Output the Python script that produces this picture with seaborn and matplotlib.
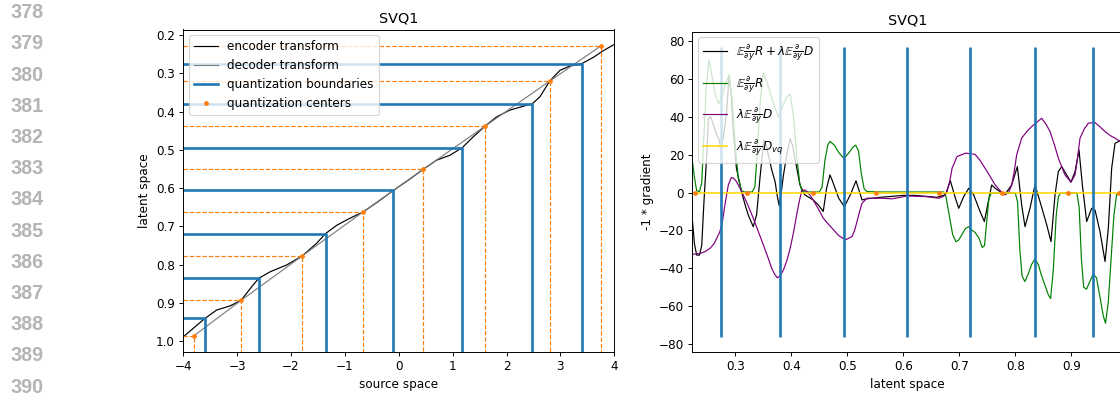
import numpy as np
import pandas as pd
import matplotlib
matplotlib.use("Agg")
import matplotlib.pyplot as plt
import seaborn as sns

# ---- left panel: encoder / decoder transforms ----
enc_src = [-4.0, -3.6, -3.38, -3.13, -2.93, -2.73, -2.60, -2.39, -2.08, -1.79, -1.53, -1.36,
           -1.15, -0.91, -0.67, -0.40, -0.10, 0.20, 0.45, 0.70, 0.95, 1.18, 1.38, 1.60, 1.81,
           2.06, 2.48, 2.62, 2.80, 2.99, 3.17, 3.40, 3.61, 3.79, 4.0]
enc_lat = [0.989, 0.941, 0.919, 0.908, 0.894, 0.858, 0.836, 0.819, 0.801, 0.777, 0.745, 0.719,
           0.697, 0.679, 0.663, 0.637, 0.606, 0.577, 0.551, 0.527, 0.514, 0.494, 0.466, 0.438, 0.414,
           0.396, 0.379, 0.361, 0.320, 0.292, 0.281, 0.274, 0.258, 0.241, 0.224]

center_src = [-3.80, -2.93, -1.79, -0.67, 0.45, 1.60, 2.80, 3.75]
center_lat = [0.986, 0.894, 0.777, 0.663, 0.551, 0.438, 0.320, 0.228]
bound_src = [-3.60, -2.60, -1.36, -0.10, 1.18, 2.48, 3.40]
bound_lat = [0.939, 0.835, 0.719, 0.606, 0.494, 0.379, 0.274]

# ---- right panel: gradients over latent space ----
# E d/dy R  (green)
r_lat = [0.2232, 0.227, 0.231, 0.236, 0.240, 0.244, 0.248, 0.253, 0.258, 0.264, 0.270, 0.276,
         0.282, 0.289, 0.294, 0.300, 0.305, 0.311, 0.316, 0.330, 0.335, 0.340, 0.345, 0.350,
         0.357, 0.365, 0.372, 0.377, 0.384, 0.391, 0.398, 0.404, 0.410, 0.415, 0.419, 0.425,
         0.450, 0.455, 0.460, 0.465, 0.469, 0.477, 0.485, 0.494, 0.503, 0.510, 0.515, 0.520,
         0.525, 0.530, 0.535, 0.560, 0.600, 0.640, 0.672, 0.676, 0.682, 0.688, 0.694, 0.699,
         0.705, 0.711, 0.717, 0.723, 0.728, 0.735, 0.741, 0.745, 0.749, 0.753, 0.757, 0.780,
         0.800, 0.804, 0.808, 0.812, 0.817, 0.823, 0.829, 0.835, 0.841, 0.847, 0.853, 0.859,
         0.863, 0.868, 0.873, 0.877, 0.881, 0.910, 0.914, 0.918, 0.922, 0.927, 0.933, 0.939,
         0.945, 0.951, 0.957, 0.961, 0.966, 0.971, 0.976, 0.981, 0.992]
r_val = [17, 8, 1, 0.5, 5, 30, 55, 70, 62, 52, 47, 50,
         57, 62, 50, 25, 8, 1, 0.3, 0.3, 3, 25, 50, 63,
         58, 50, 44, 40, 45, 50, 52, 40, 18, 5, 0.8, 0.3,
         0.3, 3, 17, 25, 27, 25, 21, 18, 21, 24, 25, 22,
         10, 2, 0.5, 0.3, 0.3, 0.3, 0.3, -2, -12, -22, -26, -25,
         -22, -19, -18, -20, -21, -24, -29, -28, -15, -3, -0.3, -0.3,
         -0.3, -5, -30, -44, -47, -43, -38, -35, -38, -44, -49, -54,
         -56, -40, -12, -2, -0.3, -0.3, -8, -35, -50, -51, -47, -43,
         -45, -55, -65, -69, -58, -35, -12, -1, -0.3]

# lambda E d/dy D  (purple)
d_lat = [0.2232, 0.237, 0.247, 0.255, 0.262, 0.267, 0.272, 0.276, 0.2815, 0.2875,
         0.293, 0.297, 0.302, 0.308, 0.314, 0.323, 0.332, 0.341, 0.350, 0.358,
         0.365, 0.370, 0.375, 0.380, 0.386, 0.392, 0.398, 0.404, 0.4095, 0.414,
         0.4184, 0.424, 0.430, 0.439, 0.448, 0.457, 0.467, 0.4727, 0.4846, 0.4965,
         0.5084, 0.513, 0.5173, 0.522, 0.5263, 0.5352, 0.562, 0.580, 0.595, 0.6066,
         0.625, 0.6394, 0.6632, 0.672, 0.6781, 0.683, 0.687, 0.696, 0.711, 0.728,
         0.737, 0.746, 0.755, 0.764, 0.773, 0.7816, 0.788, 0.7935, 0.798, 0.8024,
         0.8113, 0.820, 0.829, 0.838, 0.847, 0.855, 0.862, 0.870, 0.877, 0.8887,
         0.8994, 0.9066, 0.911, 0.9155, 0.923, 0.9304, 0.942, 0.950, 0.960, 0.970,
         0.978, 0.987, 0.992]
d_val = [-32.6, -32.2, -31, -29.4, -27, -24, -21, -17, -6.5, 4,
         8, 7.5, 5.8, 2.5, -1.2, -7, -13.5, -20.5, -27.6, -34,
         -40, -43, -45, -44, -40.8, -36, -29.4, -21, -11.8, -5,
         0.9, 1.4, 0, -3.9, -8.5, -13.5, -17, -18.8, -22.7, -25,
         -23.2, -20, -15.3, -10, -5.6, -3, -3, -3.3, -2.5, -1.8,
         -2, -2.1, -3, -2, 0.5, 6, 12.8, 19, 20.8, 20.2,
         17, 12.8, 8.5, 4, 1, -1.2, 0, 4, 11, 19.9,
         28.7, 32, 34.8, 37, 39.2, 36, 32.2, 25, 18, 9.3,
         5.5, 9.3, 18, 28.7, 33.5, 36.6, 37, 35, 32.2, 30,
         28.7, 27, 26.5]

# total (black)
t_lat = [0.2232, 0.227, 0.231, 0.236, 0.240, 0.244, 0.249, 0.252, 0.256, 0.261,
         0.266, 0.270, 0.274, 0.2785, 0.2845, 0.289, 0.293, 0.296, 0.302, 0.311,
         0.317, 0.323, 0.332, 0.338, 0.344, 0.351, 0.355, 0.359, 0.365, 0.371,
         0.375, 0.3785, 0.382, 0.386, 0.392, 0.398, 0.402, 0.4065, 0.4154, 0.424,
         0.439, 0.4482, 0.457, 0.463, 0.469, 0.4727, 0.4846, 0.4947, 0.5054, 0.5155,
         0.5263, 0.535, 0.560, 0.580, 0.600, 0.620, 0.640, 0.660, 0.675, 0.684,
         0.693, 0.699, 0.7078, 0.717, 0.7256, 0.737, 0.7447, 0.7518, 0.7578, 0.7637,
         0.7726, 0.7816, 0.7935, 0.8036, 0.8113, 0.8173, 0.8262, 0.8351, 0.844, 0.856,
         0.8637, 0.8709, 0.8768, 0.8828, 0.8917, 0.8994, 0.9066, 0.9137, 0.9197, 0.9274,
         0.9363, 0.9423, 0.9512, 0.9602, 0.9661, 0.972, 0.978, 0.987, 0.992]
t_val = [-14, -27, -33, -33, -28, -5, 20, 39, 40, 35.7,
         31, 28.7, 24, 28.7, 42.8, 62, 50, 34, 12.8, 0.5,
         -6, -11.8, -18, -11.8, 7.6, 27.8, 25, 19.9, 12, 5.8,
         -2, -7, 0, 9.3, 20, 28.5, 25, 18, 4, -1.2,
         -3.9, -6.5, -10, 2.3, 9.3, 6.7, -3, -7.4, -1.2, 6.2,
         -3.9, -3.3, -2.5, -2, -1.5, -1.5, -2, -2.5, -1.2, 6.2,
         -3, -8.3, -2.1, 2.3, -1.2, -10, -15.3, -4.7, 4, 2.3,
         0.5, -0.9, 4, 13.7, -6.5, -18, -8.3, 4, -4.7, -17,
         -25.9, -1.2, 11.1, 13.7, 9.3, 5.5, 11, 22.5, 4, -15.3,
         -8.3, -9.2, -20.6, -36.4, -18.8, 12.8, 26, 27.3, 27.5]

line_numbers = list(range(378, 391))

DPI = 86
fig = plt.figure(figsize=(1120 / DPI, 398 / DPI), dpi=DPI)

# grey line numbers of the page margin
for i, n in enumerate(line_numbers):
    fig.text(27 / 1120, 1 - (12.7 + i * 31.2) / 398, str(n), ha="center", va="center",
             fontsize=16.5, color="#b4b4b4", fontweight="bold", family="Liberation Sans")

ax1 = fig.add_axes([183.3 / 1120, 1 - 351.7 / 398, 431 / 1120, 322.2 / 398])
ax2 = fig.add_axes([692.3 / 1120, 1 - 351.7 / 398, 431 / 1120, 320.2 / 398])

# ---------------- left ----------------
x_lo, x_hi = -4, 4
y_bot, y_top = 1.028, 0.185

sns.lineplot(x=enc_src, y=enc_lat, sort=False, estimator=None, color="k", lw=1,
             label="encoder transform", ax=ax1)
sns.lineplot(x=center_src, y=center_lat, sort=False, estimator=None, color="grey", lw=1,
             label="decoder transform", ax=ax1)
for k, (bs, bl) in enumerate(zip(bound_src, bound_lat)):
    ax1.plot([x_lo, bs, bs], [bl, bl, y_bot + 0.05], color="C0", lw=2.2,
             label="quantization boundaries" if k == 0 else None)
for cs, cl in zip(center_src, center_lat):
    ax1.plot([x_lo, cs, cs], [cl, cl, y_bot + 0.05], color="C1", lw=1, ls="--")
ax1.plot(center_src, center_lat, ".", color="C1", label="quantization centers")

ax1.set_xlim(x_lo, x_hi)
ax1.set_ylim(y_bot, y_top)
ax1.set_yticks([0.2, 0.3, 0.4, 0.5, 0.6, 0.7, 0.8, 0.9, 1.0])
ax1.set_xlabel("source space")
ax1.set_ylabel("latent space")
ax1.set_title("SVQ1")
ax1.legend(loc="upper left")

# ---------------- right ----------------
lab_tot = r"$\mathbb{E}\frac{\partial}{\partial y}R + \lambda\mathbb{E}\frac{\partial}{\partial y}D$"
lab_r = r"$\mathbb{E}\frac{\partial}{\partial y}R$"
lab_d = r"$\lambda\mathbb{E}\frac{\partial}{\partial y}D$"
lab_vq = r"$\lambda\mathbb{E}\frac{\partial}{\partial y}D_{vq}$"

sns.lineplot(x=t_lat, y=t_val, estimator=None, color="k", lw=1, label=lab_tot, ax=ax2)
sns.lineplot(x=r_lat, y=r_val, estimator=None, color="green", lw=1, label=lab_r, ax=ax2)
sns.lineplot(x=d_lat, y=d_val, estimator=None, color="purple", lw=1, label=lab_d, ax=ax2)
ax2.axhline(0, color="gold", lw=1.3, label=lab_vq)
ax2.plot(center_lat, np.zeros(len(center_lat)), ".", color="C1")
ax2.vlines(bound_lat, -76, 77, color="C0", lw=2.2, zorder=3)

ax2.set_xlim(0.2232, 0.9928)
ax2.set_ylim(-84, 85)
ax2.set_xticks([0.3, 0.4, 0.5, 0.6, 0.7, 0.8, 0.9])
ax2.set_yticks([-80, -60, -40, -20, 0, 20, 40, 60, 80])
ax2.set_xlabel("latent space")
ax2.set_ylabel("-1 * gradient")
ax2.set_title("SVQ1")
ax2.legend(loc="upper left", labelspacing=0.9)

fig.savefig("out.png", dpi=DPI)
